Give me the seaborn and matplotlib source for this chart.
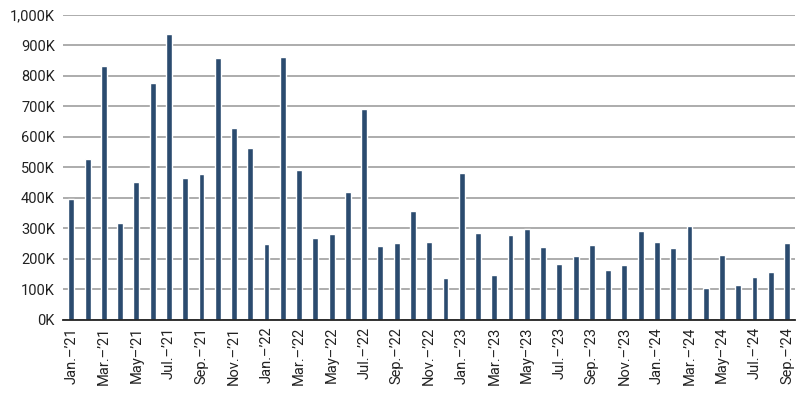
import pandas as pd
import seaborn as sns
import matplotlib.pyplot as plt
from matplotlib.ticker import FuncFormatter, FixedLocator

months = ['Jan.', 'Feb.', 'Mar.', 'Apr.', 'May', 'Jun.', 'Jul.', 'Aug.', 'Sep.', 'Oct.', 'Nov.', 'Dec.']
years = ['21', '22', '23', '24']

values_2021 = [395, 527, 832, 317, 451, 776, 938, 464, 479, 859, 630, 564]
values_2022 = [249, 861, 492, 269, 283, 420, 691, 242, 251, 358, 255, 136]
values_2023 = [481, 286, 146, 277, 299, 238, 183, 208, 245, 163, 179, 290]
values_2024 = [255, 235, 309, 105, 214, 115, 142, 156, 251]

labels = []
for y, vals in zip(years, [values_2021, values_2022, values_2023, values_2024]):
    for m in months[:len(vals)]:
        labels.append(f"{m}\u2013\u2019{y}")
values = values_2021 + values_2022 + values_2023 + values_2024

df = pd.DataFrame({'Month': labels, 'Value': values})

sns.set_style('white')
plt.rcParams['font.family'] = ['Roboto', 'DejaVu Sans']

fig = plt.figure(figsize=(8, 3.94), dpi=100)
ax = fig.add_axes([0.079, 0.188, 0.915, 0.774])
sns.barplot(data=df, x='Month', y='Value', color='#2b4b6f', width=0.36,
            saturation=1, ax=ax)

ax.set_ylim(0, 1000)
ax.set_yticks(range(0, 1001, 100))
ax.yaxis.set_major_formatter(FuncFormatter(lambda v, p: f"{int(v):,}K"))
ax.grid(axis='y', color='#a6a6a6', linewidth=1.3)
ax.set_axisbelow(True)

ax.set_xlim(-0.5, len(values) - 0.5)
ax.set_xticks(range(0, len(values), 2))
ax.set_xticklabels(labels[::2], rotation=90)
ax.xaxis.set_minor_locator(FixedLocator([i - 0.5 for i in range(0, len(values), 2)]))
ax.tick_params(axis='x', which='major', length=0, pad=5, labelsize=10.5, colors='#222222')
ax.tick_params(axis='x', which='minor', length=4, width=0.8, color='#999999', direction='out')
ax.tick_params(axis='y', length=0, pad=6, labelsize=10.5, colors='#222222')

for s in ['top', 'right', 'left']:
    ax.spines[s].set_visible(False)
ax.spines['bottom'].set_color('#222222')
ax.spines['bottom'].set_linewidth(1.3)
ax.set_xlabel('')
ax.set_ylabel('')

fig.savefig('out.png', dpi=100)
